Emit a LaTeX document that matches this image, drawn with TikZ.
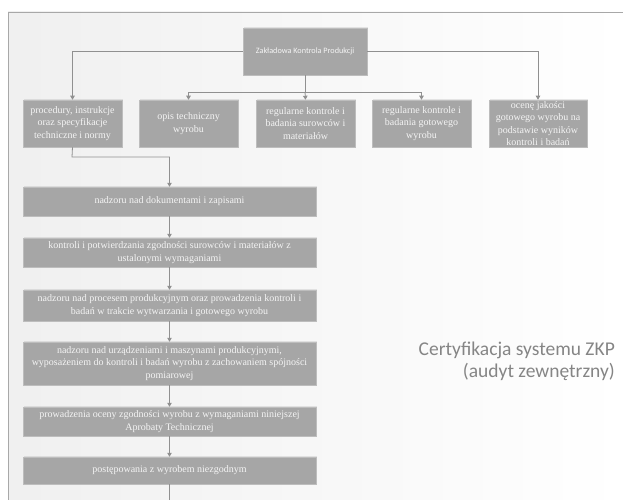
\documentclass[tikz,border=0pt]{standalone}
\usepackage{fontspec}
\setmainfont{Liberation Serif}
\newfontfamily\carlito{Carlito}
\usetikzlibrary{arrows.meta,shadows}
\definecolor{boxfill}{HTML}{A6A6A6}
\definecolor{boxline}{HTML}{BDBDBD}
\definecolor{conn}{HTML}{909090}
\definecolor{frameline}{HTML}{A8A8A8}
\definecolor{boxtext}{HTML}{F4F4F4}
\definecolor{certtext}{HTML}{858585}
\tikzset{
  box/.style={draw=boxline, line width=0.5pt, fill=boxfill, text=boxtext, inner sep=0pt,
    align=center, font=\fontsize{10}{12.3}\selectfont,
    drop shadow={opacity=0.18, shadow xshift=1pt, shadow yshift=1.2pt}},
  conn/.style={draw=conn, line width=0.8pt},
  arr/.style={conn, -{Triangle[width=4.5pt,length=4pt]}},
}
\begin{document}
\begin{tikzpicture}[x=1pt,y=-1pt]
\useasboundingbox (0,0) rectangle (623,500);
\fill[white] (0,0) rectangle (623,500);
\shade[shading angle=60, left color=black!6, right color=white] (8,12) rectangle (623,500);
\draw[frameline, line width=0.8pt] (623,12) -- (8,12) -- (8,500);

% top
\node[box, minimum width=124pt, minimum height=47pt, font=\fontsize{8.2}{10}\carlito] (T) at (305,51.5) {Zakładowa Kontrola Produkcji};

% row
\node[box, minimum width=99pt, minimum height=47pt] (R1) at (72.5,123.5) {procedury, instrukcje\\oraz specyfikacje\\techniczne i normy};
\node[box, minimum width=99pt, minimum height=47pt] (R2) at (188.5,123.5) {opis techniczny\\wyrobu};
\node[box, minimum width=99pt, minimum height=47pt] (R3) at (305.5,123.5) {regularne kontrole i\\badania surowców i\\materiałów};
\node[box, minimum width=99pt, minimum height=47pt] (R4) at (421.5,123.5) {regularne kontrole i\\badania gotowego\\wyrobu};
\node[box, minimum width=98pt, minimum height=47pt] (R5) at (538,123.5) {ocenę jakości\\gotowego wyrobu na\\podstawie wyników\\kontroli i badań};

% column
\node[box, minimum width=293pt, minimum height=29pt] (A) at (169.5,201.5) {nadzoru nad dokumentami i zapisami};
\node[box, minimum width=293pt, minimum height=29pt] (B) at (169.5,252.5) {kontroli i potwierdzania zgodności surowców i materiałów z\\ustalonymi wymaganiami};
\node[box, minimum width=293pt, minimum height=31pt] (C) at (169.5,305.5) {nadzoru nad procesem produkcyjnym oraz prowadzenia kontroli i\\badań w trakcie wytwarzania i gotowego wyrobu};
\node[box, minimum width=293pt, minimum height=43pt] (D) at (169.5,363.5) {nadzoru nad urządzeniami i maszynami produkcyjnymi,\\wyposażeniem do kontroli i badań wyrobu z zachowaniem spójności\\pomiarowej};
\node[box, minimum width=293pt, minimum height=29pt] (E) at (169.5,421.5) {prowadzenia oceny zgodności wyrobu z wymaganiami niniejszej\\Aprobaty Technicznej};
\node[box, minimum width=293pt, minimum height=27pt] (F) at (169.5,470.5) {postępowania z wyrobem niezgodnym};

\coordinate (bus) at (305,92);
\coordinate (elbow) at (72,157);
\coordinate (bottom) at (169.5,500);

% connectors
\draw[arr] (T.west) -| (R1.north);
\draw[arr] (T.east) -| (R5.north);
\draw[conn] (T.south) -- (bus);
\draw[arr] (bus) -| (R2.north);
\draw[arr] (bus) -- (R3.north);
\draw[arr] (bus) -| (R4.north);
\draw[arr] (R1.south) -- (elbow) -| (A.north);
\draw[arr] (A) -- (B);
\draw[arr] (B) -- (C);
\draw[arr] (C) -- (D);
\draw[arr] (D) -- (E);
\draw[arr] (E) -- (F);
\draw[conn] (F.south) -- (bottom);

% side text
\node[anchor=east, inner sep=0pt, align=right, text=certtext, font=\fontsize{19.5}{22}\carlito] (cert) at (615,361) {Certyfikacja systemu ZKP\\(audyt zewnętrzny)};
\end{tikzpicture}
\end{document}
